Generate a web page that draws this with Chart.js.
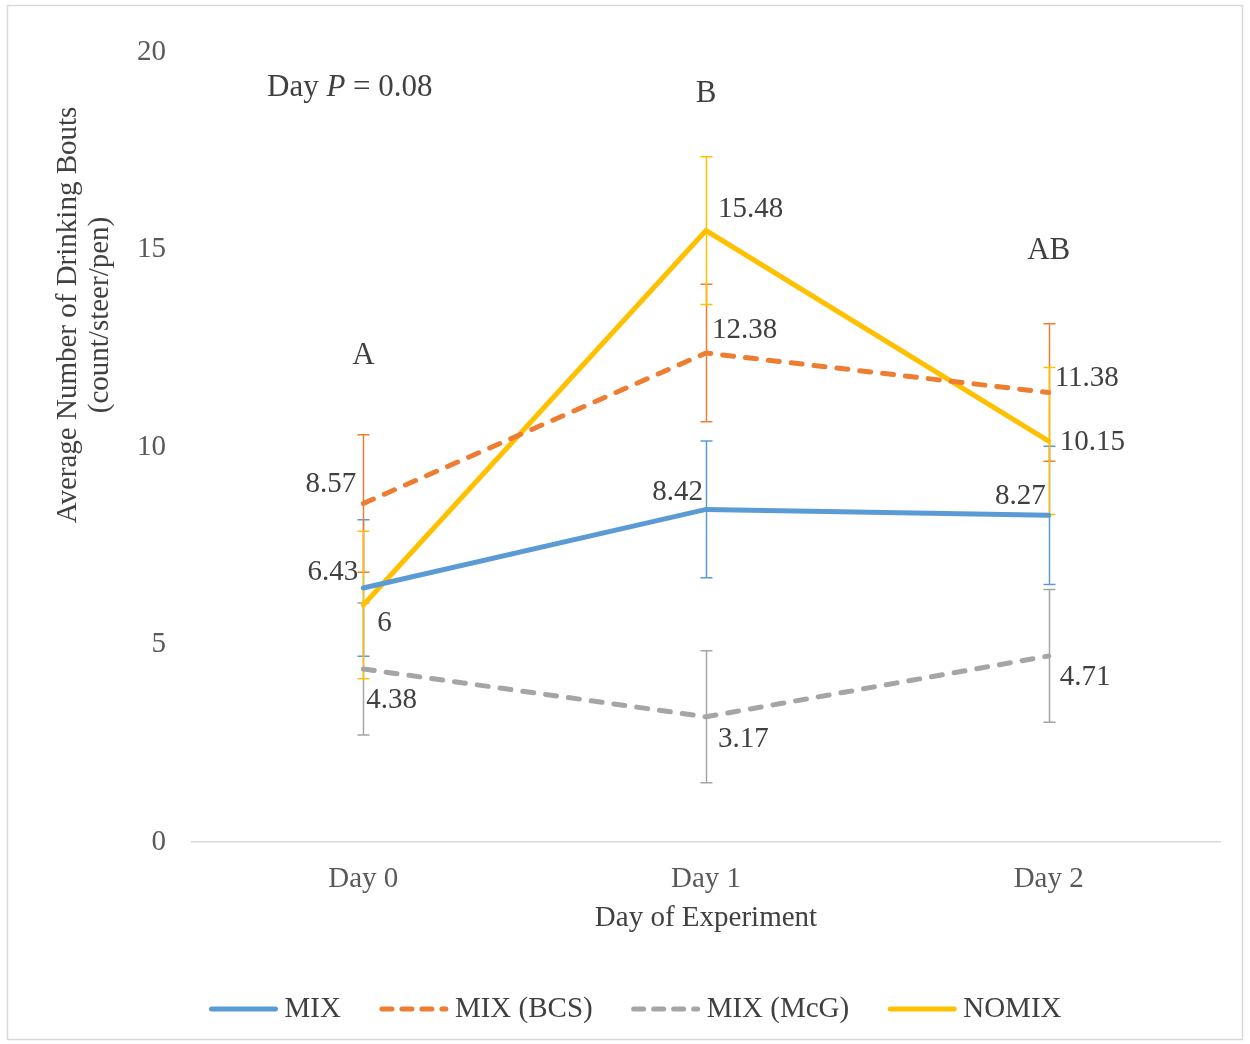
<!DOCTYPE html>
<html>
<head>
<meta charset="utf-8">
<title>Average Number of Drinking Bouts</title>
<script src="https://cdn.jsdelivr.net/npm/chart.js@4.4.1/dist/chart.umd.min.js"></script>
<style>
  html, body { margin: 0; padding: 0; background: #fff; }
  #wrap { width: 1250px; height: 1044px; }
</style>
</head>
<body>
<div id="wrap"><canvas id="chart" width="1250" height="1044"></canvas></div>
<script>
// ---- data ----
const days = ['Day 0', 'Day 1', 'Day 2'];
const seriesNames = ['MIX', 'MIX (BCS)', 'MIX (McG)', 'NOMIX'];
const mix    = [6.43, 8.42, 8.27];
const mixBcs = [8.57, 12.38, 11.38];
const mixMcg = [4.38, 3.17, 4.71];
const nomix  = [6, 15.48, 10.15];
// standard errors (±)
const mixErr    = [1.73, 1.73, 1.75];
const mixBcsErr = [1.74, 1.74, 1.74];
const mixMcgErr = [1.67, 1.67, 1.68];
const nomixErr  = [1.87, 1.87, 1.86];
const yTicks = [0, 5, 10, 15, 20];
const dayLetters = ['A', 'B', 'AB'];
const dayPText = ['Day ', 'P', ' = 0.08'];

// ---- styling / placement ----
const FONT = "'Liberation Serif', 'Times New Roman', serif";
const TEXT = '#404040';
const TICK = '#595959';
const SIZE = 29;
const NOTE_SIZE = 31;
const COLORS = ['#5B9BD5', '#ED7D31', '#A5A5A5', '#FFC000'];
const DASHES = [[], [11, 12], [11, 12], []];
// where each letter sits, in axis units above the category
const letterLevels = [12.3, 18.95, 14.97];
// value label offsets from the point: [dx, dy, align]
const labelPlacement = [
  [[-5, -16, 'right'], [-3, -17, 'right'], [-3, -19, 'right']],
  [[-7, -19, 'right'], [6, -23, 'left'], [6, -14, 'left']],
  [[3, 31, 'left'], [12, 23, 'left'], [11, 21, 'left']],
  [[14, 18, 'left'], [12, -21, 'left'], [11, 1, 'left']]
];

const values = [mix, mixBcs, mixMcg, nomix];
const errors = [mixErr, mixBcsErr, mixMcgErr, nomixErr];

const datasets = values.map((v, i) => ({
  label: seriesNames[i],
  data: v,
  errors: errors[i],
  borderColor: COLORS[i],
  backgroundColor: COLORS[i],
  borderWidth: 5,
  borderDash: DASHES[i],
  borderCapStyle: 'round',
  borderJoinStyle: 'miter',
  pointRadius: 0,
  pointHoverRadius: 0,
  tension: 0,
  fill: false
}));

// white page with a thin grey frame
const framePlugin = {
  id: 'frame',
  beforeDraw(chart) {
    const c = chart.ctx;
    c.save();
    c.fillStyle = '#ffffff';
    c.fillRect(0, 0, chart.width, chart.height);
    c.strokeStyle = '#D9D9D9';
    c.lineWidth = 1.5;
    c.strokeRect(7.5, 5.5, 1235, 1034);
    c.restore();
  }
};

// vertical error bars with caps, drawn under the lines
const errorBarPlugin = {
  id: 'errorBars',
  beforeDatasetsDraw(chart) {
    const c = chart.ctx;
    const xs = chart.scales.x, ys = chart.scales.y;
    c.save();
    chart.data.datasets.forEach((ds) => {
      c.strokeStyle = ds.borderColor;
      c.lineWidth = 1.5;
      c.setLineDash([]);
      ds.data.forEach((v, j) => {
        const e = ds.errors[j];
        const x = Math.round(xs.getPixelForValue(j)) + 0.5;
        const yTop = ys.getPixelForValue(v + e);
        const yBot = ys.getPixelForValue(v - e);
        c.beginPath();
        c.moveTo(x, yTop); c.lineTo(x, yBot);
        c.moveTo(x - 6, yTop); c.lineTo(x + 6, yTop);
        c.moveTo(x - 6, yBot); c.lineTo(x + 6, yBot);
        c.stroke();
      });
    });
    c.restore();
  }
};

// value labels, axis titles, significance letters, the Day P note, and the legend
const textPlugin = {
  id: 'texts',
  afterDatasetsDraw(chart) {
    const c = chart.ctx;
    const xs = chart.scales.x, ys = chart.scales.y;
    const area = chart.chartArea;
    c.save();
    c.font = `${SIZE}px ${FONT}`;
    c.fillStyle = TEXT;
    c.textBaseline = 'middle';

    // value labels
    chart.data.datasets.forEach((ds, i) => {
      const meta = chart.getDatasetMeta(i);
      ds.data.forEach((v, j) => {
        const pt = meta.data[j];
        const [dx, dy, align] = labelPlacement[i][j];
        c.textAlign = align;
        c.fillText(String(v), pt.x + dx, pt.y + dy);
      });
    });

    // significance letters
    c.font = `${NOTE_SIZE}px ${FONT}`;
    c.textAlign = 'center';
    dayLetters.forEach((t, j) => {
      c.fillText(t, xs.getPixelForValue(j), ys.getPixelForValue(letterLevels[j]));
    });

    // Day P = 0.08 (P in italics)
    let x = 267;
    const yNote = 88;
    c.textAlign = 'left';
    dayPText.forEach((part, k) => {
      c.font = (k === 1 ? 'italic ' : '') + `${NOTE_SIZE}px ${FONT}`;
      c.fillText(part, x, yNote);
      x += c.measureText(part).width;
    });

    // x axis title
    c.font = `${SIZE}px ${FONT}`;
    c.textAlign = 'center';
    c.fillText('Day of Experiment', (area.left + area.right) / 2, 918);

    // y axis title (two lines, rotated)
    c.save();
    c.translate(68, 315);
    c.rotate(-Math.PI / 2);
    c.fillText('Average Number of Drinking Bouts', 0, 0);
    c.fillText('(count/steer/pen)', 0, 32);
    c.restore();

    // legend
    const lineLen = 70, lineGap = 6, itemGap = 38, yLeg = 1009;
    const widths = chart.data.datasets.map(ds => lineLen + lineGap + c.measureText(ds.label).width);
    const total = widths.reduce((a, b) => a + b, 0) + itemGap * (widths.length - 1);
    let lx = 635 - total / 2;
    chart.data.datasets.forEach((ds, i) => {
      c.strokeStyle = ds.borderColor;
      c.lineWidth = 5;
      c.lineCap = 'round';
      c.setLineDash(ds.borderDash.length ? [10, 10] : []);
      c.beginPath();
      c.moveTo(lx + 3, yLeg); c.lineTo(lx + lineLen - 3, yLeg);
      c.stroke();
      c.setLineDash([]);
      c.fillStyle = TEXT;
      c.textAlign = 'left';
      c.fillText(ds.label, lx + lineLen + lineGap, yLeg);
      lx += widths[i] + itemGap;
    });
    c.restore();
  }
};

new Chart(document.getElementById('chart'), {
  type: 'line',
  data: { labels: days, datasets },
  plugins: [framePlugin, errorBarPlugin, textPlugin],
  options: {
    responsive: false,
    animation: false,
    events: [],
    layout: { padding: { left: 0, right: 30, top: 52, bottom: 0 } },
    plugins: {
      legend: { display: false },
      tooltip: { enabled: false },
      title: { display: false }
    },
    scales: {
      x: {
        type: 'category',
        offset: true,
        grid: { display: false, drawTicks: false },
        border: { display: true, color: '#D9D9D9', width: 1.5 },
        ticks: { color: TICK, font: { family: FONT, size: SIZE }, padding: 20, maxRotation: 0 },
        afterFit(scale) { scale.height = 202; }
      },
      y: {
        min: 0,
        max: 20,
        grid: { display: false, drawTicks: false },
        border: { display: false },
        afterBuildTicks(scale) { scale.ticks = yTicks.map(v => ({ value: v })); },
        ticks: { color: TICK, font: { family: FONT, size: SIZE }, padding: 26 },
        afterFit(scale) { scale.width = 192; }
      }
    }
  }
});
</script>
</body>
</html>
